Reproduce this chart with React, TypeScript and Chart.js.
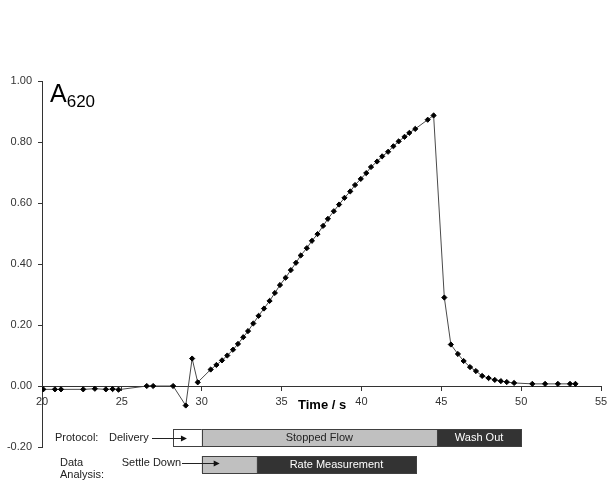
import React, { useEffect, useRef } from 'react';
import { Chart, registerables } from 'chart.js';

Chart.register(...registerables);

// ---- data ----
const timeS = [
  20.08, 20.81, 21.19, 22.58, 23.31, 24.0, 24.42, 24.79, 26.56, 26.96,
  28.21, 29.0, 29.4, 29.75, 30.56, 30.92, 31.27, 31.6, 31.96, 32.27,
  32.6, 32.9, 33.23, 33.56, 33.9, 34.25, 34.58, 34.9, 35.25, 35.58,
  35.9, 36.2, 36.58, 36.9, 37.25, 37.6, 37.9, 38.27, 38.6, 38.94,
  39.3, 39.6, 39.96, 40.3, 40.6, 40.98, 41.3, 41.67, 42.0, 42.33,
  42.7, 43.0, 43.37, 44.15, 44.52, 45.19, 45.6, 46.04, 46.4, 46.8,
  47.17, 47.56, 47.96, 48.35, 48.73, 49.1, 49.56, 50.7, 51.5, 52.3,
  53.06, 53.4,
];
const absorbance = [
  -0.011, -0.011, -0.011, -0.011, -0.009, -0.011, -0.01, -0.012, 0.0, 0.0,
  0.0, -0.064, 0.09, 0.012, 0.054, 0.069, 0.084, 0.1, 0.119, 0.138,
  0.16, 0.18, 0.205, 0.23, 0.254, 0.279, 0.305, 0.331, 0.355, 0.38,
  0.404, 0.428, 0.452, 0.476, 0.498, 0.525, 0.548, 0.573, 0.595, 0.617,
  0.638, 0.659, 0.679, 0.698, 0.718, 0.736, 0.753, 0.768, 0.786, 0.802,
  0.817, 0.83, 0.843, 0.873, 0.887, 0.29, 0.136, 0.105, 0.082, 0.062,
  0.049, 0.033, 0.026, 0.02, 0.016, 0.013, 0.01, 0.007, 0.007, 0.007,
  0.007, 0.007,
];

const xMin = 20;
const xMax = 55;
const xStep = 5;
const yMin = -0.2;
const yMax = 1.0;
const yStep = 0.2;

const protocolNames = ['Delivery', 'Stopped Flow', 'Wash Out'];
const protocolStart = [28.2, 30.0, 44.73];
const protocolEnd = [30.0, 44.73, 50.0];

const analysisNames = ['Settle Down', 'Rate Measurement'];
const analysisStart = [30.0, 33.45];
const analysisEnd = [33.45, 43.42];

const FONT = '"Liberation Sans", Arial, Helvetica, sans-serif';

const overlayPlugin = {
  id: 'overlayPlugin',
  afterDraw(chart: any) {
    const ctx: CanvasRenderingContext2D = chart.ctx;
    const xs = chart.scales.x;
    ctx.save();

    // A620 label
    ctx.fillStyle = '#000';
    ctx.textAlign = 'left';
    ctx.textBaseline = 'alphabetic';
    ctx.font = `25px ${FONT}`;
    ctx.fillText('A', 50, 102);
    const aw = ctx.measureText('A').width;
    ctx.font = `17px ${FONT}`;
    ctx.fillText('620', 50 + aw, 107);

    // axis title
    ctx.font = `bold 13px ${FONT}`;
    ctx.textBaseline = 'middle';
    ctx.fillStyle = '#000';
    ctx.fillText('Time / s', 298, 405);

    const fills = ['#ffffff', '#c0c0c0', '#333333'];
    const drawBar = (x0: number, x1: number, top: number, h: number, fill: string, text: string) => {
      ctx.fillStyle = fill;
      ctx.fillRect(x0, top, x1 - x0, h);
      ctx.strokeStyle = '#404040';
      ctx.lineWidth = 1;
      ctx.strokeRect(Math.round(x0) + 0.5, top + 0.5, Math.round(x1 - x0), h);
      if (text) {
        ctx.font = `11px ${FONT}`;
        ctx.textAlign = 'center';
        ctx.textBaseline = 'middle';
        ctx.fillStyle = fill === '#333333' ? '#ffffff' : '#222222';
        ctx.fillText(text, (x0 + x1) / 2, top + h / 2 + 0.5);
      }
    };
    const drawArrow = (xa: number, xb: number, y: number) => {
      ctx.strokeStyle = '#222';
      ctx.lineWidth = 1;
      ctx.beginPath();
      ctx.moveTo(xa, y + 0.5);
      ctx.lineTo(xb - 4, y + 0.5);
      ctx.stroke();
      ctx.fillStyle = '#111';
      ctx.beginPath();
      ctx.moveTo(xb, y + 0.5);
      ctx.lineTo(xb - 6, y - 2.5);
      ctx.lineTo(xb - 6, y + 3.5);
      ctx.closePath();
      ctx.fill();
    };

    // Protocol row
    const r1Top = 429;
    const r1H = 17;
    protocolNames.forEach((name, i) => {
      const x0 = xs.getPixelForValue(protocolStart[i]);
      const x1 = xs.getPixelForValue(protocolEnd[i]);
      drawBar(x0, x1, r1Top, r1H, fills[i], i === 0 ? '' : name);
    });
    // Analysis row
    const r2Top = 456;
    const r2H = 17;
    analysisNames.forEach((name, i) => {
      const x0 = xs.getPixelForValue(analysisStart[i]);
      const x1 = xs.getPixelForValue(analysisEnd[i]);
      drawBar(x0, x1, r2Top, r2H, fills[i + 1], i === 0 ? '' : name);
    });

    ctx.font = `11px ${FONT}`;
    ctx.fillStyle = '#222';
    ctx.textBaseline = 'middle';
    ctx.textAlign = 'left';
    ctx.fillText('Protocol:', 55, 437.5);
    ctx.fillText(protocolNames[0], 109, 437.5);
    ctx.fillText('Data', 60, 462.5);
    ctx.fillText('Analysis:', 60, 474.5);
    ctx.textAlign = 'right';
    ctx.fillText(analysisNames[0], 181, 463);

    drawArrow(152, xs.getPixelForValue(protocolStart[0]) + 14, 438);
    drawArrow(182, xs.getPixelForValue(analysisStart[0]) + 18, 463);

    ctx.restore();
  },
};

export default function App() {
  const canvasRef = useRef<HTMLCanvasElement | null>(null);

  useEffect(() => {
    if (!canvasRef.current) return;
    Chart.defaults.font.family = FONT;
    const points = timeS.map((t, i) => ({ x: t, y: absorbance[i] }));
    const chart = new Chart(canvasRef.current, {
      type: 'line',
      data: {
        datasets: [
          {
            data: points,
            borderColor: '#4a4a4a',
            borderWidth: 1,
            pointStyle: 'rectRot',
            pointRadius: 2.6,
            pointBackgroundColor: '#000',
            pointBorderColor: '#000',
            pointBorderWidth: 1,
            tension: 0,
            fill: false,
          },
        ],
      },
      options: {
        animation: false,
        responsive: false,
        events: [],
        layout: { padding: { left: 0, right: 7, top: 81, bottom: 34 } },
        plugins: { legend: { display: false }, tooltip: { enabled: false } },
        scales: {
          x: {
            type: 'linear',
            min: xMin,
            max: xMax,
            position: { y: 0 } as any,
            afterFit: (s: any) => {
              s.height = 0;
              s.paddingLeft = 0;
              s.paddingRight = 0;
            },
            ticks: {
              stepSize: xStep,
              autoSkip: false,
              maxRotation: 0,
              padding: 5,
              color: '#333',
              font: { size: 11 },
            },
            grid: { drawOnChartArea: false, drawTicks: true, tickLength: 4, color: '#333' },
            border: { display: true, color: '#333', width: 1 },
          },
          y: {
            type: 'linear',
            min: yMin,
            max: yMax,
            afterFit: (s: any) => {
              s.width = 42;
            },
            ticks: {
              stepSize: yStep,
              autoSkip: false,
              padding: 6,
              color: '#333',
              font: { size: 11 },
              callback: (v: any) => (Math.abs(Number(v)) < 1e-9 ? '0.00' : Number(v).toFixed(2)),
            },
            grid: { drawOnChartArea: false, drawTicks: true, tickLength: 4, color: '#333' },
            border: { display: true, color: '#333', width: 1 },
          },
        },
      },
      plugins: [overlayPlugin],
    });
    return () => chart.destroy();
  }, []);

  return (
    <div style={{ position: 'fixed', left: 0, top: 0, width: 608, height: 481, background: '#fff' }}>
      <canvas ref={canvasRef} width={608} height={481} style={{ display: 'block' }} />
    </div>
  );
}
